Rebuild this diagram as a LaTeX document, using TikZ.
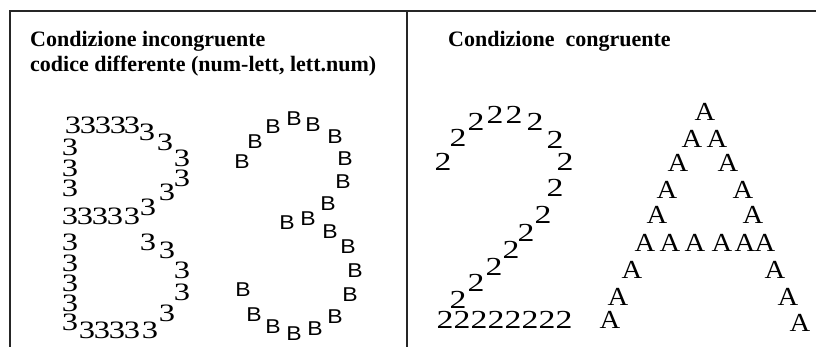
\documentclass[tikz,border=0pt]{standalone}
\usepackage{fontspec}
\setmainfont{Liberation Serif}
\newfontfamily\sansglyph{Liberation Sans}
\usetikzlibrary{positioning}
\newcommand\wideglyph[2]{\scalebox{#1}[1]{#2}}

\begin{document}
\begin{tikzpicture}[x=1pt, y=-1pt,
  frame/.style={line width=1.6pt, black!85},
  title/.style={anchor=base west, inner sep=0pt, font=\fontsize{22}{25}\selectfont\bfseries},
  tre/.style={inner sep=0pt, font=\fontsize{25}{25}\selectfont},
  bee/.style={inner sep=0pt, font=\sansglyph\fontsize{20}{20}\selectfont},
  due/.style={inner sep=0pt, font=\fontsize{26}{26}\selectfont},
  aa/.style={inner sep=0pt, font=\fontsize{26}{26}\selectfont}]
\useasboundingbox (0,0) rectangle (816,347);
\coordinate (tl) at (10,11);
\coordinate (tr) at (816,11);
\coordinate (bl) at (10,347);
\coordinate (mt) at (407,11);
\coordinate (mb) at (407,347);
\draw[frame] (bl) -- (tl) -- (tr);
\draw[frame] (mt) -- (mb);
% titles
\node[title] (incong) at (30,47) {Condizione incongruente};
\node[title] (codice) at (30,72) {codice differente (num-lett, lett.num)};
\node[title] (cong) at (448,47) {Condizione\ \ congruente};
% B made of 3
\foreach \x/\y [count=\i] in {73/125, 88/125, 103/125, 118/125, 132/125, 147/132, 165/142, 182/158, 182/178, 167/192, 148/207,
    70/147, 70/168, 70/188, 70/216, 85/216, 100/216, 115/216, 132/216,
    70/242, 70/263, 70/283, 70/303, 70/322, 87/330, 102/330, 117/330, 132/330, 150/330,
    167/313, 182/292, 182/270, 167/250, 148/242}
  \node[tre] (tre\i) at (\x,\y) {\wideglyph{1.3}{3}};
% 3 made of B
\foreach \x/\y [count=\i] in {242/162, 255/142, 273/127, 294/119, 313/125, 335/137, 345/159, 343/182, 328/204, 308/219, 287/223,
    330/232, 348/247, 355/271, 350/295, 335/317, 315/329, 294/334, 273/327, 254/315, 243/290}
  \node[bee] (bee\i) at (\x,\y) {\wideglyph{1.15}{B}};
% 2 made of 2
\foreach \x/\y [count=\i] in {443/162, 458/138, 476/122, 495/115, 514/115, 535/122, 555/140, 565/162, 555/188, 543/215, 526/233,
    511/250, 494/267, 476/283, 458/300, 445/320, 462/320, 479/320, 496/320, 513/320, 530/320, 547/320, 564/320}
  \node[due] (due\i) at (\x,\y) {\wideglyph{1.3}{2}};
% A made of A
\foreach \x/\y [count=\i] in {705/112, 692/139, 717/139, 678/163, 728/163, 667/190, 743/190, 657/215, 753/215,
    645/243, 670/243, 695/243, 722/243, 745/243, 765/243, 632/270, 775/270, 618/297, 788/297, 610/320, 800/323}
  \node[aa] (aa\i) at (\x,\y) {\wideglyph{1.1}{A}};
\end{tikzpicture}
\end{document}
